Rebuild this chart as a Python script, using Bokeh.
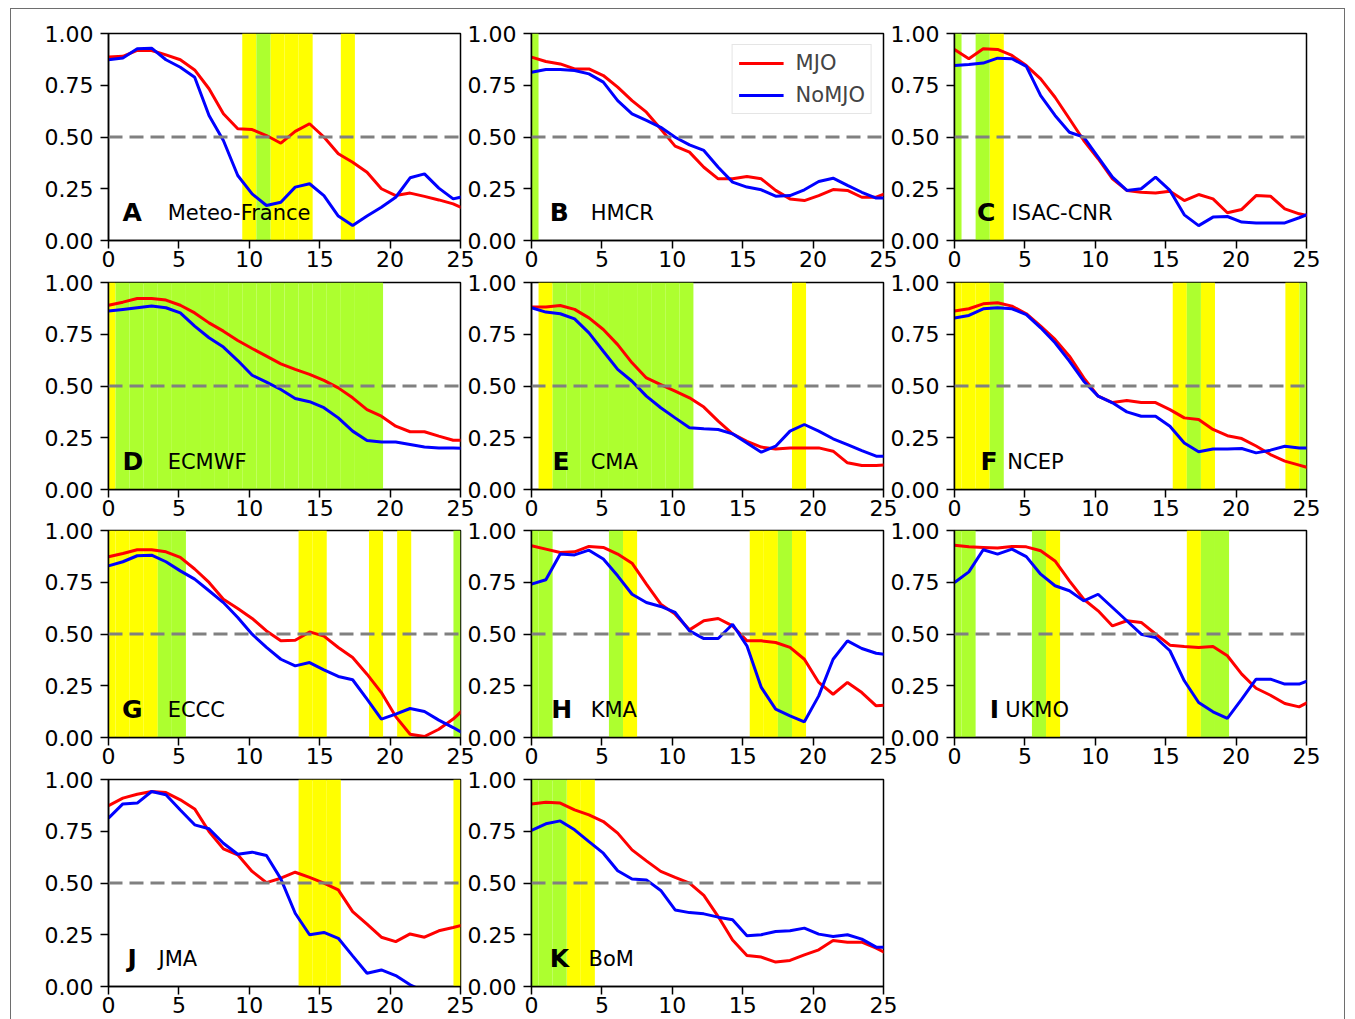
import numpy as np
from bokeh.plotting import figure
from bokeh.models import Range1d, Span, Label, NumeralTickFormatter, FixedTicker
from bokeh.layouts import row, column
from bokeh.embed import file_html
from bokeh.resources import INLINE

# lead days used for the shading bands, and x positions of the curve samples
days = list(range(26))
line_x = [0.0, 1.02, 2.04, 3.06, 4.08, 5.1, 6.12, 7.14, 8.16, 9.18, 10.2, 11.22, 12.24,
          13.26, 14.28, 15.3, 16.32, 17.34, 18.36, 19.38, 20.4, 21.42, 22.44, 23.46, 24.48, 25.5]

letters = ["A", "B", "C", "D", "E", "F", "G", "H", "I", "J", "K"]
centres = ["Meteo-France", "HMCR", "ISAC-CNR", "ECMWF", "CMA", "NCEP",
           "ECCC", "KMA", "UKMO", "JMA", "BoM"]

mjo_A = [0.886, 0.89, 0.918, 0.918, 0.897, 0.873, 0.824, 0.733, 0.612, 0.54, 0.536, 0.507, 0.47,
         0.527, 0.564, 0.50, 0.419, 0.378, 0.33, 0.25, 0.217, 0.229, 0.213, 0.196, 0.177, 0.145]
nomjo_A = [0.873, 0.882, 0.926, 0.929, 0.873, 0.837, 0.789, 0.604, 0.483, 0.314, 0.225, 0.169, 0.185,
           0.258, 0.274, 0.217, 0.118, 0.072, 0.118, 0.161, 0.209, 0.303, 0.322, 0.253, 0.201, 0.217]
mjo_B = [0.886, 0.865, 0.853, 0.829, 0.829, 0.797, 0.741, 0.676, 0.62, 0.539, 0.456, 0.427, 0.354,
         0.298, 0.298, 0.309, 0.298, 0.242, 0.201, 0.193, 0.217, 0.246, 0.242, 0.209, 0.209, 0.237]
nomjo_B = [0.813, 0.826, 0.826, 0.821, 0.805, 0.765, 0.676, 0.612, 0.58, 0.547, 0.499, 0.462, 0.435,
           0.354, 0.282, 0.258, 0.245, 0.214, 0.217, 0.245, 0.285, 0.301, 0.266, 0.233, 0.205, 0.205]
mjo_C = [0.923, 0.878, 0.926, 0.923, 0.894, 0.845, 0.781, 0.692, 0.588, 0.483, 0.395, 0.298, 0.242,
         0.233, 0.23, 0.238, 0.193, 0.222, 0.201, 0.134, 0.15, 0.217, 0.214, 0.153, 0.129, 0.113]
nomjo_C = [0.845, 0.85, 0.857, 0.881, 0.878, 0.841, 0.70, 0.604, 0.523, 0.499, 0.403, 0.306, 0.242,
           0.25, 0.306, 0.242, 0.124, 0.072, 0.113, 0.116, 0.089, 0.085, 0.085, 0.085, 0.11, 0.137]
mjo_D = [0.89, 0.905, 0.923, 0.923, 0.915, 0.89, 0.853, 0.805, 0.765, 0.72, 0.681, 0.644, 0.607,
         0.58, 0.556, 0.527, 0.491, 0.443, 0.386, 0.354, 0.306, 0.279, 0.279, 0.258, 0.238, 0.237]
nomjo_D = [0.862, 0.87, 0.878, 0.886, 0.878, 0.853, 0.789, 0.733, 0.688, 0.623, 0.552, 0.519, 0.483,
           0.44, 0.424, 0.395, 0.346, 0.282, 0.237, 0.23, 0.229, 0.217, 0.205, 0.201, 0.201, 0.198]
mjo_E = [0.882, 0.882, 0.889, 0.87, 0.829, 0.773, 0.70, 0.612, 0.539, 0.507, 0.475, 0.443, 0.398,
         0.33, 0.269, 0.233, 0.205, 0.196, 0.201, 0.201, 0.201, 0.185, 0.129, 0.116, 0.116, 0.121]
nomjo_E = [0.878, 0.857, 0.849, 0.824, 0.757, 0.668, 0.58, 0.523, 0.451, 0.395, 0.346, 0.298, 0.293,
           0.29, 0.269, 0.225, 0.18, 0.209, 0.282, 0.314, 0.282, 0.245, 0.217, 0.188, 0.161, 0.161]
mjo_F = [0.862, 0.873, 0.897, 0.902, 0.886, 0.849, 0.789, 0.725, 0.644, 0.539, 0.451, 0.42, 0.43,
         0.42, 0.42, 0.386, 0.346, 0.338, 0.29, 0.26, 0.246, 0.21, 0.169, 0.137, 0.118, 0.097]
nomjo_F = [0.829, 0.841, 0.873, 0.878, 0.873, 0.845, 0.781, 0.709, 0.62, 0.523, 0.451, 0.419, 0.375,
           0.354, 0.354, 0.306, 0.225, 0.182, 0.196, 0.196, 0.198, 0.177, 0.19, 0.209, 0.201, 0.201]
mjo_G = [0.873, 0.889, 0.907, 0.907, 0.897, 0.87, 0.814, 0.749, 0.668, 0.623, 0.575, 0.515, 0.467,
         0.47, 0.51, 0.49, 0.435, 0.386, 0.306, 0.217, 0.101, 0.016, 0.005, 0.04, 0.089, 0.153]
nomjo_G = [0.829, 0.849, 0.878, 0.881, 0.849, 0.805, 0.765, 0.709, 0.652, 0.58, 0.499, 0.435, 0.378,
           0.346, 0.362, 0.327, 0.295, 0.279, 0.185, 0.089, 0.113, 0.14, 0.126, 0.084, 0.048, 0.008]
mjo_H = [0.926, 0.91, 0.894, 0.897, 0.923, 0.918, 0.886, 0.842, 0.741, 0.644, 0.596, 0.52, 0.564,
         0.575, 0.539, 0.467, 0.467, 0.459, 0.435, 0.378, 0.266, 0.209, 0.266, 0.217, 0.153, 0.158]
nomjo_H = [0.741, 0.762, 0.886, 0.882, 0.905, 0.862, 0.781, 0.692, 0.652, 0.633, 0.604, 0.515, 0.478,
           0.478, 0.547, 0.443, 0.242, 0.137, 0.105, 0.076, 0.201, 0.378, 0.467, 0.43, 0.407, 0.398]
mjo_I = [0.929, 0.921, 0.918, 0.915, 0.923, 0.921, 0.902, 0.853, 0.757, 0.668, 0.612, 0.539, 0.564,
         0.556, 0.5, 0.446, 0.44, 0.435, 0.44, 0.395, 0.306, 0.238, 0.204, 0.164, 0.148, 0.185]
nomjo_I = [0.749, 0.8, 0.907, 0.886, 0.91, 0.874, 0.789, 0.733, 0.709, 0.66, 0.692, 0.628, 0.564,
           0.499, 0.483, 0.419, 0.274, 0.169, 0.124, 0.092, 0.185, 0.282, 0.282, 0.258, 0.258, 0.285]
mjo_J = [0.873, 0.91, 0.929, 0.942, 0.937, 0.902, 0.858, 0.749, 0.665, 0.636, 0.556, 0.502, 0.523,
         0.552, 0.527, 0.499, 0.467, 0.362, 0.301, 0.238, 0.217, 0.254, 0.238, 0.269, 0.285, 0.303]
nomjo_J = [0.813, 0.882, 0.886, 0.942, 0.926, 0.853, 0.781, 0.762, 0.692, 0.639, 0.649, 0.633, 0.52,
           0.354, 0.25, 0.261, 0.233, 0.148, 0.064, 0.08, 0.053, 0.008, -0.024, np.nan, np.nan, np.nan]
mjo_K = [0.882, 0.89, 0.886, 0.853, 0.829, 0.797, 0.741, 0.66, 0.607, 0.556, 0.527, 0.499, 0.44,
         0.338, 0.225, 0.15, 0.142, 0.118, 0.126, 0.153, 0.177, 0.222, 0.214, 0.214, 0.185, 0.15]
nomjo_K = [0.754, 0.786, 0.8, 0.757, 0.70, 0.644, 0.559, 0.519, 0.515, 0.464, 0.37, 0.357, 0.351,
           0.335, 0.322, 0.245, 0.25, 0.266, 0.269, 0.282, 0.253, 0.242, 0.25, 0.229, 0.19, 0.19]

mjo_series = [mjo_A, mjo_B, mjo_C, mjo_D, mjo_E, mjo_F, mjo_G, mjo_H, mjo_I, mjo_J, mjo_K]
nomjo_series = [nomjo_A, nomjo_B, nomjo_C, nomjo_D, nomjo_E, nomjo_F, nomjo_G, nomjo_H, nomjo_I,
                nomjo_J, nomjo_K]

# days shaded (yellow / green significance)
yellow_days = [[10, 12, 13, 14, 17], [], [3], [0], [1, 19], [0, 1, 2, 16, 18, 24],
               [0, 1, 2, 3, 14, 15, 19, 21], [7, 16, 17, 19], [7, 17], [14, 15, 16, 25], [3, 4]]
green_days = [[11], [0], [0, 2], list(range(1, 20)), list(range(2, 12)), [3, 17, 25],
              [4, 5, 25], [0, 1, 6, 18], [0, 1, 6, 18, 19], [], [0, 1, 2]]

# label positions (in days from the left edge)
letter_x = [1.0, 1.3, 1.6, 1.0, 1.5, 1.85, 0.95, 1.4, 2.5, 1.35, 1.3]
name_x = [4.2, 4.2, 4.05, 4.2, 4.2, 3.75, 4.2, 4.2, 3.6, 3.55, 4.05]

FONT = "DejaVu Sans"
RED = "#ff0000"
BLUE = "#0000ff"
YELLOW = "#ffff00"
GREEN = "#adff2f"

# figure borders (figures overlap through negative margins; borders are transparent)
BL, BR, BT, BB = 80, 25, 20, 45
row_margin_top = [4, -23, -24, -23]
first_left = 17
col_shift = -34


def make_panel(i):
    r, c = divmod(i, 3)
    p = figure(frame_width=352, frame_height=207,
               x_range=Range1d(0, 25), y_range=Range1d(0, 1),
               output_backend="svg", toolbar_location=None,
               min_border_left=BL, min_border_right=BR,
               min_border_top=BT, min_border_bottom=(38 if r == 3 else BB),
               margin=(0, 0, 0, first_left if c == 0 else col_shift))
    p.grid.visible = False
    p.background_fill_color = "white"
    p.border_fill_color = None
    p.outline_line_color = "black"
    p.outline_line_width = 1.5
    p.outline_line_alpha = 1.0

    if yellow_days[i]:
        p.vbar(x=yellow_days[i], width=1, bottom=0, top=1, fill_color=YELLOW, line_color=None)
    if green_days[i]:
        p.vbar(x=green_days[i], width=1, bottom=0, top=1, fill_color=GREEN, line_color=None)

    p.add_layout(Span(location=0.5, dimension="width", line_color="#808080",
                      line_dash="14 7", line_width=3))

    if i == 1:
        p.line(line_x, mjo_series[i], line_color=RED, line_width=3, legend_label="MJO")
        p.line(line_x, nomjo_series[i], line_color=BLUE, line_width=3, legend_label="NoMJO")
    else:
        p.line(line_x, mjo_series[i], line_color=RED, line_width=3)
        p.line(line_x, nomjo_series[i], line_color=BLUE, line_width=3)

    for ax in (p.xaxis[0], p.yaxis[0]):
        ax.axis_line_color = "black"
        ax.axis_line_width = 1.5
        ax.major_tick_line_color = "black"
        ax.major_tick_line_width = 1.5
        ax.major_tick_out = 8
        ax.major_tick_in = 0
        ax.minor_tick_line_color = None
        ax.major_label_text_font = FONT
        ax.major_label_text_font_size = "22px"
        ax.major_label_text_color = "black"
    p.xaxis.ticker = FixedTicker(ticks=[0, 5, 10, 15, 20, 25])
    p.yaxis.ticker = FixedTicker(ticks=[0, 0.25, 0.5, 0.75, 1.0])
    p.yaxis.formatter = NumeralTickFormatter(format="0.00")
    p.xaxis.major_label_standoff = 2
    p.yaxis.major_label_standoff = 7

    p.add_layout(Label(x=letter_x[i], y=0.135, text=letters[i], text_font=FONT,
                       text_font_size="25px", text_font_style="bold",
                       text_baseline="middle", text_align="left", text_color="black"))
    p.add_layout(Label(x=name_x[i], y=0.135, text=centres[i], text_font=FONT,
                       text_font_size="21px", text_baseline="middle", text_align="left",
                       text_color="black"))

    if i == 1:
        lg = p.legend[0]
        lg.location = "top_right"
        lg.margin = 11
        lg.padding = 6
        lg.spacing = 8
        lg.glyph_width = 45
        lg.glyph_height = 24
        lg.label_standoff = 12
        lg.label_text_font = FONT
        lg.label_text_font_size = "21px"
        lg.label_height = 24
        lg.border_line_color = "#cccccc"
        lg.border_line_width = 1.5
        lg.background_fill_alpha = 0.8
    return p


panels = [make_panel(i) for i in range(11)]
rows = []
for r in range(4):
    kids = panels[3 * r:3 * r + 3]
    rows.append(row(kids, margin=(row_margin_top[r], 0, 0, 0)))
layout = column(rows, width=1335, margin=(8, 0, 0, 10),
                styles={"border-top": "1px solid #6e6e6e", "border-left": "1px solid #6e6e6e",
                        "border-right": "1px solid #6e6e6e"})

open("out.html", "w").write(file_html(layout, INLINE))
